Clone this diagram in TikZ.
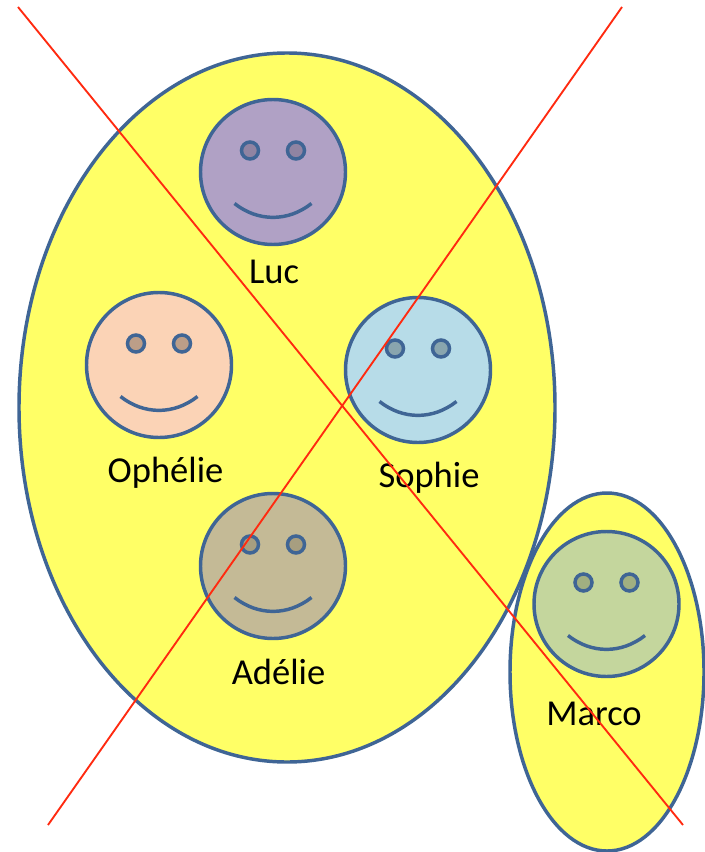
\documentclass[tikz,border=0pt]{standalone}
\usepackage{fontspec}
\setmainfont{Carlito}
\usetikzlibrary{shapes.geometric}
\definecolor{edgeblue}{HTML}{3F6595}
\definecolor{groupyellow}{HTML}{FFFF66}
\definecolor{crossred}{HTML}{FF2A10}
\definecolor{lucfill}{HTML}{B0A1C5}
\definecolor{ophfill}{HTML}{FBD3B6}
\definecolor{sopfill}{HTML}{B7DCE8}
\definecolor{adefill}{HTML}{C4BA96}
\definecolor{marfill}{HTML}{C4D69D}
\tikzset{
  x=0.75pt, y=-0.75pt,
  group/.style={ellipse, draw=edgeblue, line width=2.6pt, fill=groupyellow, inner sep=0pt, outer sep=0pt},
  head/.style={circle, draw=edgeblue, line width=2.6pt, minimum size=145*0.75pt, inner sep=0pt, outer sep=0pt},
  eye/.style={circle, draw=edgeblue, line width=2.6pt, minimum size=17*0.75pt, inner sep=0pt, outer sep=0pt},
  smile/.style={draw=edgeblue, line width=2.6pt},
  who/.style={font=\fontsize{27.4pt}{32pt}\selectfont, text=black, inner sep=0pt},
  cross/.style={draw=crossred, line width=1.4pt}
}
% name, x, y, fill, eye fill
\newcommand{\smiley}[5]{%
  \node[head, fill=#4] (#1) at (#2,#3) {};
  \node[eye, fill=#5] (#1L) at ([shift={(-23,-21.5)}]#1.center) {};
  \node[eye, fill=#5] (#1R) at ([shift={(23,-21.5)}]#1.center) {};
  \coordinate (#1A) at ([shift={(-38.5,31.5)}]#1.center);
  \coordinate (#1B) at ([shift={(38.5,31.5)}]#1.center);
  \draw[smile] (#1A) .. controls ([shift={(-15,50)}]#1.center) and ([shift={(15,50)}]#1.center) .. (#1B);
}
\begin{document}
\begin{tikzpicture}
\useasboundingbox (0,0) rectangle (705,852);
\node[group, minimum width=536*0.75pt, minimum height=709*0.75pt] (big) at (287,407.5) {};
\node[group, minimum width=194*0.75pt, minimum height=358*0.75pt] (small) at (607,672) {};
\smiley{luc}{273}{172}{lucfill}{black!18!lucfill}
\smiley{oph}{159}{365}{ophfill}{black!25!ophfill}
\smiley{sop}{418}{370}{sopfill}{black!25!sopfill}
\smiley{ade}{273}{566}{adefill}{black!15!adefill}
\smiley{mar}{606.5}{604}{marfill}{black!18!marfill}
\node[who] (lucT) at (274,272) {Luc};
\node[who] (ophT) at (165.5,472.5) {Ophélie};
\node[who] (sopT) at (429,477.5) {Sophie};
\node[who] (adeT) at (278.5,672) {Adélie};
\node[who] (marT) at (594,714) {Marco};
\coordinate (a1) at (18,7);
\coordinate (a2) at (683,825);
\coordinate (b1) at (622,7);
\coordinate (b2) at (48,825);
\draw[cross] (a1) -- (a2);
\draw[cross] (b1) -- (b2);
\end{tikzpicture}
\end{document}
